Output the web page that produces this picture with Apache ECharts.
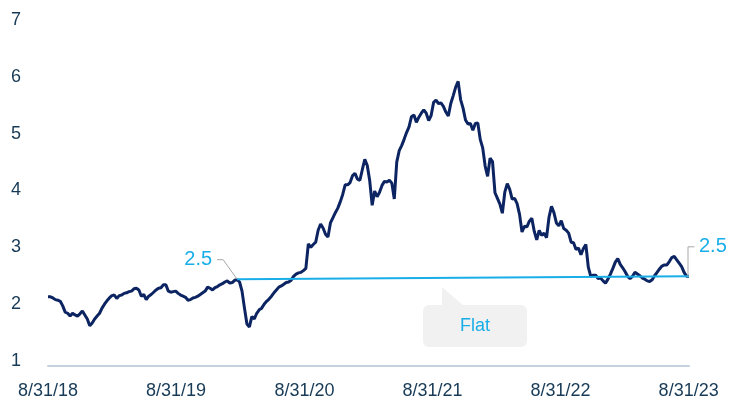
<!DOCTYPE html>
<html>
<head>
<meta charset="utf-8">
<script src="https://cdn.jsdelivr.net/npm/echarts@6/dist/echarts.min.js"></script>
<style>
  html, body { margin: 0; padding: 0; background: #fff; }
  #chart { width: 738px; height: 400px; }
</style>
</head>
<body>
<div id="chart"></div>
<script>
// weekly closes, first one on 8/31/18
var startDate = '2018-08-31';
var stepDays = 7;
var weekValues = [
  2.13, 2.13, 2.11, 2.08, 2.07, 2.05, 1.97, 1.86, 1.84, 1.79,
  1.84, 1.81, 1.79, 1.83, 1.88, 1.81, 1.74, 1.62, 1.67, 1.74,
  1.79, 1.84, 1.93, 2.00, 2.06, 2.11, 2.15, 2.16, 2.10, 2.15,
  2.16, 2.19, 2.20, 2.22, 2.23, 2.27, 2.28, 2.25, 2.14, 2.17,
  2.08, 2.14, 2.17, 2.21, 2.25, 2.28, 2.29, 2.34, 2.34, 2.23,
  2.21, 2.22, 2.23, 2.19, 2.16, 2.14, 2.12, 2.07, 2.08, 2.11,
  2.12, 2.14, 2.17, 2.20, 2.23, 2.30, 2.28, 2.25, 2.29, 2.31,
  2.34, 2.36, 2.39, 2.41, 2.37, 2.38, 2.42, 2.43, 2.39, 2.23,
  1.93, 1.65, 1.60, 1.78, 1.74, 1.84, 1.90, 1.93, 2.00, 2.05,
  2.09, 2.14, 2.20, 2.25, 2.30, 2.32, 2.35, 2.38, 2.39, 2.42,
  2.49, 2.53, 2.55, 2.56, 2.59, 2.63, 3.06, 3.00, 3.05, 3.09,
  3.30, 3.41, 3.34, 3.23, 3.18, 3.43, 3.52, 3.61, 3.69, 3.80,
  3.93, 4.10, 4.10, 4.14, 4.26, 4.30, 4.20, 4.18, 4.37, 4.55,
  4.44, 4.17, 3.74, 3.99, 3.89, 3.97, 4.09, 4.16, 4.15, 4.18,
  4.13, 3.85, 4.50, 4.70, 4.79, 4.90, 5.02, 5.12, 5.30, 5.33,
  5.20, 5.29, 5.36, 5.42, 5.36, 5.23, 5.32, 5.55, 5.59, 5.53,
  5.54, 5.48, 5.38, 5.31, 5.53, 5.67, 5.82, 5.92, 5.60, 5.45,
  5.24, 5.17, 5.18, 5.06, 5.18, 5.19, 4.90, 4.75, 4.43, 4.25,
  4.57, 4.51, 3.96, 3.86, 3.76, 3.60, 3.97, 4.12, 4.02, 3.85,
  3.86, 3.77, 3.58, 3.27, 3.37, 3.36, 3.46, 3.51, 3.28, 3.13,
  3.30, 3.21, 3.25, 3.17, 3.53, 3.72, 3.61, 3.43, 3.38, 3.47,
  3.33, 3.30, 3.25, 3.09, 3.08, 2.96, 2.99, 2.87, 2.98, 3.05,
  2.65, 2.49, 2.51, 2.51, 2.45, 2.46, 2.41, 2.37, 2.44, 2.53,
  2.63, 2.74, 2.80, 2.70, 2.64, 2.57, 2.49, 2.45, 2.49, 2.56,
  2.53, 2.50, 2.46, 2.44, 2.41, 2.40, 2.43, 2.50, 2.56, 2.62,
  2.67, 2.69, 2.69, 2.75, 2.82, 2.84, 2.78, 2.72, 2.66, 2.56,
  2.49, 2.49
];

var tickDates = ['2018-08-31', '2019-08-31', '2020-08-31', '2021-08-31', '2022-08-31', '2023-08-31'];
var tickLabels = ['8/31/18', '8/31/19', '8/31/20', '8/31/21', '8/31/22', '8/31/23'];

var flatDates = ['2020-02-21', '2023-09-01'];
var flatValues = [2.44, 2.49];
var flatText = ['2.5', '2.5'];
var calloutText = 'Flat';

var navy = '#0c2461';
var cyan = '#19aee8';
var textColor = '#173a56';
var DAY = 86400000;

function toTs(s) {
  var p = s.split('-');
  return Date.UTC(+p[0], +p[1] - 1, +p[2]);
}

var t0 = toTs(startDate);
var lineData = weekValues.map(function (v, i) { return [t0 + i * stepDays * DAY, v]; });
var flatData = flatDates.map(function (d, i) { return [toTs(d), flatValues[i]]; });
var tickTs = tickDates.map(toTs);

var chart = echarts.init(document.getElementById('chart'));

chart.setOption({
  animation: false,
  textStyle: { fontFamily: '"Liberation Sans", Arial, sans-serif' },
  grid: { left: 48, right: 49, top: 20, bottom: 38, containLabel: false },
  xAxis: {
    type: 'value',
    min: t0,
    max: t0 + (weekValues.length - 1) * stepDays * DAY,
    offset: 5,
    axisLine: { show: true, lineStyle: { color: '#c5d2de', width: 2 } },
    axisTick: { show: false },
    splitLine: { show: false },
    axisLabel: {
      customValues: tickTs,
      margin: 16,
      fontSize: 18,
      color: textColor,
      formatter: function (val) {
        var best = 0;
        for (var i = 1; i < tickTs.length; i++) {
          if (Math.abs(tickTs[i] - val) < Math.abs(tickTs[best] - val)) best = i;
        }
        return tickLabels[best];
      }
    }
  },
  yAxis: {
    type: 'value',
    min: 1,
    max: 7,
    interval: 1,
    axisLine: { show: false },
    axisTick: { show: false },
    splitLine: { show: false },
    axisLabel: { align: 'left', margin: 37, fontSize: 18, color: textColor }
  },
  series: [
    {
      type: 'line',
      data: lineData,
      showSymbol: false,
      lineStyle: { color: navy, width: 3 },
      z: 2
    },
    {
      type: 'line',
      data: flatData,
      showSymbol: false,
      lineStyle: { color: cyan, width: 2 },
      z: 3
    }
  ]
});

// annotations hung on the flat line ends
var a = chart.convertToPixel({ gridIndex: 0 }, flatData[0]);
var b = chart.convertToPixel({ gridIndex: 0 }, flatData[1]);
var leader = { stroke: '#a8a8a8', lineWidth: 1, fill: null };

chart.setOption({
  graphic: [
    { type: 'polyline', shape: { points: [[a[0], a[1]], [a[0] - 14, a[1] - 19.5], [a[0] - 20, a[1] - 19.5]] }, style: leader, z: 10 },
    { type: 'text', x: a[0] - 25, y: a[1] - 19.5, style: { text: flatText[0], fill: cyan, fontSize: 20, align: 'right', verticalAlign: 'middle', fontFamily: '"Liberation Sans", Arial, sans-serif' }, z: 10 },
    { type: 'polyline', shape: { points: [[b[0] - 1, b[1]], [b[0] - 1, b[1] - 29.5], [b[0] + 5.5, b[1] - 29.5]] }, style: leader, z: 10 },
    { type: 'text', x: b[0] + 10, y: b[1] - 29.5, style: { text: flatText[1], fill: cyan, fontSize: 20, align: 'left', verticalAlign: 'middle', fontFamily: '"Liberation Sans", Arial, sans-serif' }, z: 10 },
    { type: 'rect', shape: { x: 423, y: 305, width: 104, height: 42, r: 6 }, style: { fill: '#f1f1f1' }, z: 5 },
    { type: 'polygon', shape: { points: [[442, 287], [442, 306], [464, 306]] }, style: { fill: '#f1f1f1' }, z: 5 },
    { type: 'text', x: 475, y: 326, style: { text: calloutText, fill: cyan, fontSize: 18, align: 'center', verticalAlign: 'middle', fontFamily: '"Liberation Sans", Arial, sans-serif' }, z: 6 }
  ]
});
</script>
</body>
</html>
